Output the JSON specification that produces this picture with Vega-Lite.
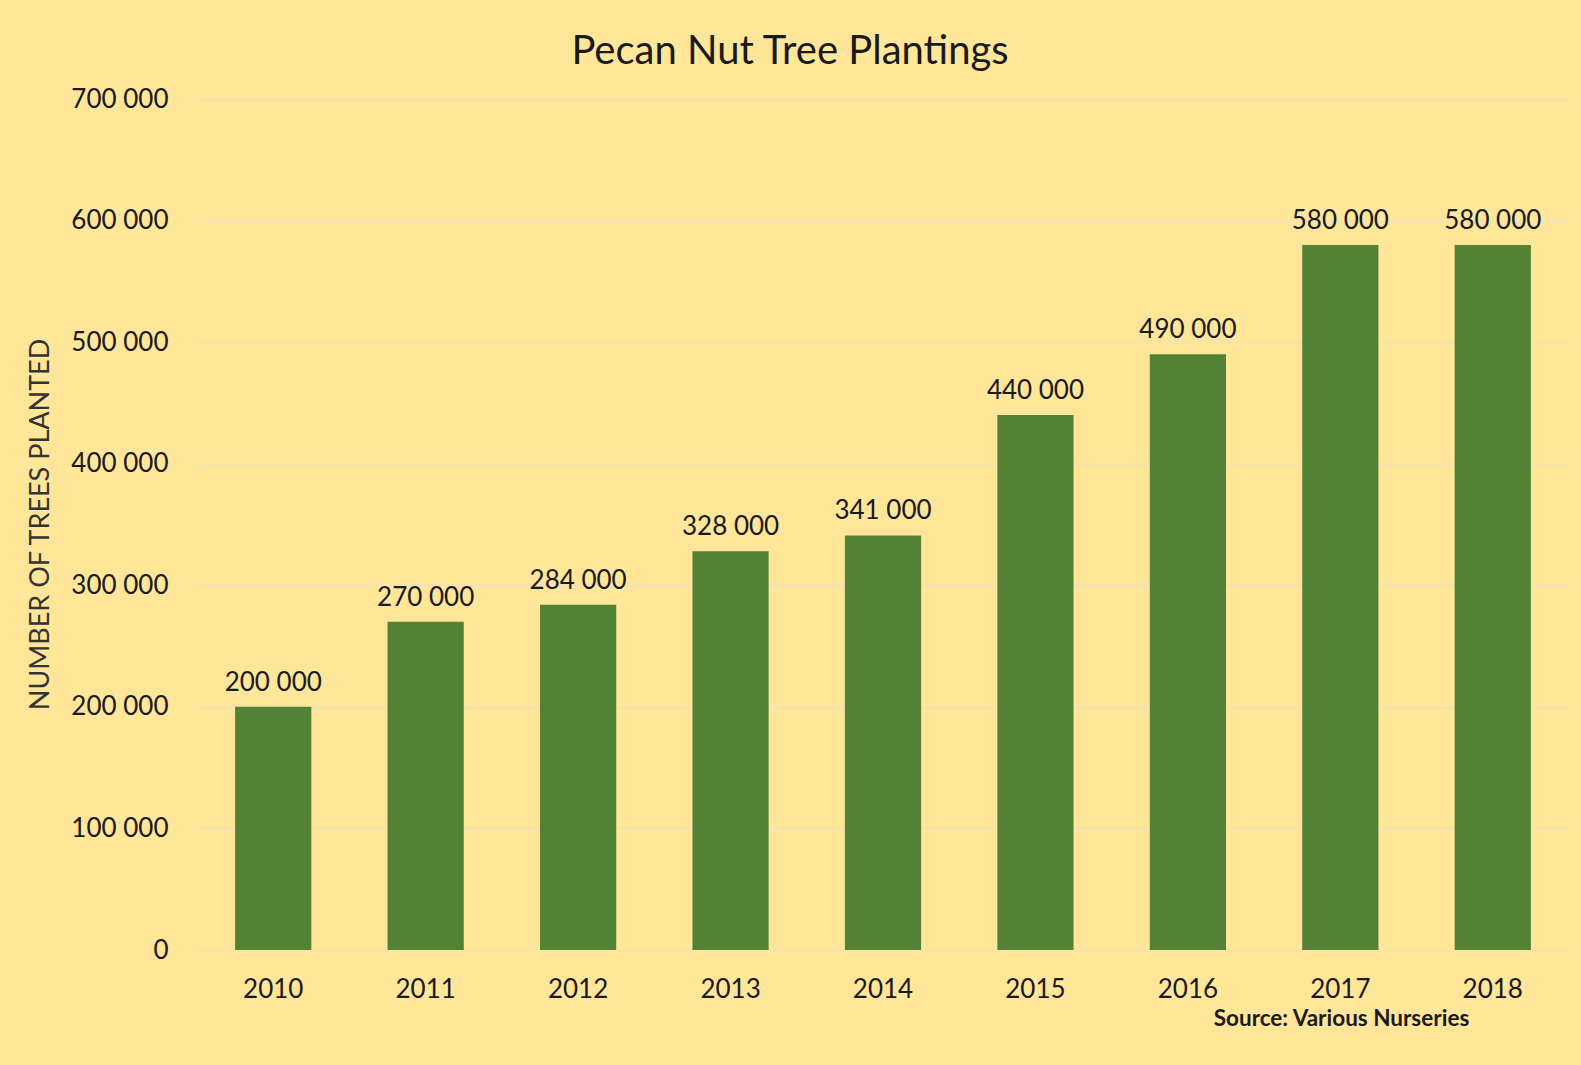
{
  "$schema": "https://vega.github.io/schema/vega-lite/v6.json",
  "width": 1372,
  "height": 851,
  "autosize": {"type": "none"},
  "padding": {"left": 197, "top": 99, "right": 12, "bottom": 115},
  "background": "#FFE699",
  "title": {
    "text": "Pecan Nut Tree Plantings",
    "font": "Lato",
    "fontSize": 40,
    "fontWeight": "normal",
    "color": "#1a1a1a",
    "anchor": "middle",
    "dx": -93,
    "offset": 14
  },
  "data": {
    "values": [
      {"year": "2010", "trees": 200000},
      {"year": "2011", "trees": 270000},
      {"year": "2012", "trees": 284000},
      {"year": "2013", "trees": 328000},
      {"year": "2014", "trees": 341000},
      {"year": "2015", "trees": 440000},
      {"year": "2016", "trees": 490000},
      {"year": "2017", "trees": 580000},
      {"year": "2018", "trees": 580000}
    ]
  },
  "encoding": {
    "x": {
      "field": "year",
      "type": "ordinal",
      "scale": {"paddingInner": 0.5, "paddingOuter": 0.25},
      "axis": {
        "title": "Source: Various Nurseries",
        "titleFont": "Lato",
        "titleFontSize": 22.5,
        "titleFontWeight": "bold",
        "titleColor": "#1a1a1a",
        "titleX": 1144,
        "titleY": 68,
        "titleAlign": "center",
        "titleBaseline": "middle",
        "labelAngle": 0,
        "labelFont": "Lato",
        "labelFontSize": 26,
        "labelColor": "#1a1a1a",
        "labelPadding": 26,
        "ticks": false,
        "domain": false,
        "grid": false
      }
    },
    "y": {
      "field": "trees",
      "type": "quantitative",
      "scale": {"domain": [0, 700000], "nice": false},
      "axis": {
        "title": "NUMBER OF TREES PLANTED",
        "titleFont": "Lato",
        "titleFontSize": 27,
        "titleFontWeight": "normal",
        "titleColor": "#333333",
        "titleAngle": -90,
        "titleX": -157,
        "titleY": 425,
        "titleAlign": "center",
        "titleBaseline": "middle",
        "values": [0, 100000, 200000, 300000, 400000, 500000, 600000, 700000],
        "format": ",d",
        "labelFont": "Lato",
        "labelFontSize": 26,
        "labelColor": "#1a1a1a",
        "labelPadding": 29,
        "ticks": false,
        "domain": false,
        "grid": true,
        "gridColor": "#F6E3AE",
        "gridWidth": 3
      }
    }
  },
  "layer": [
    {"mark": {"type": "bar", "color": "#548235"}},
    {
      "mark": {
        "type": "text",
        "font": "Lato",
        "fontSize": 26,
        "color": "#1a1a1a",
        "baseline": "alphabetic",
        "dy": -16
      },
      "encoding": {"text": {"field": "trees", "type": "quantitative", "format": ",d"}}
    }
  ],
  "config": {
    "view": {"stroke": null},
    "locale": {
      "number": {"decimal": ".", "thousands": " ", "grouping": [3], "currency": ["", ""]}
    }
  }
}
